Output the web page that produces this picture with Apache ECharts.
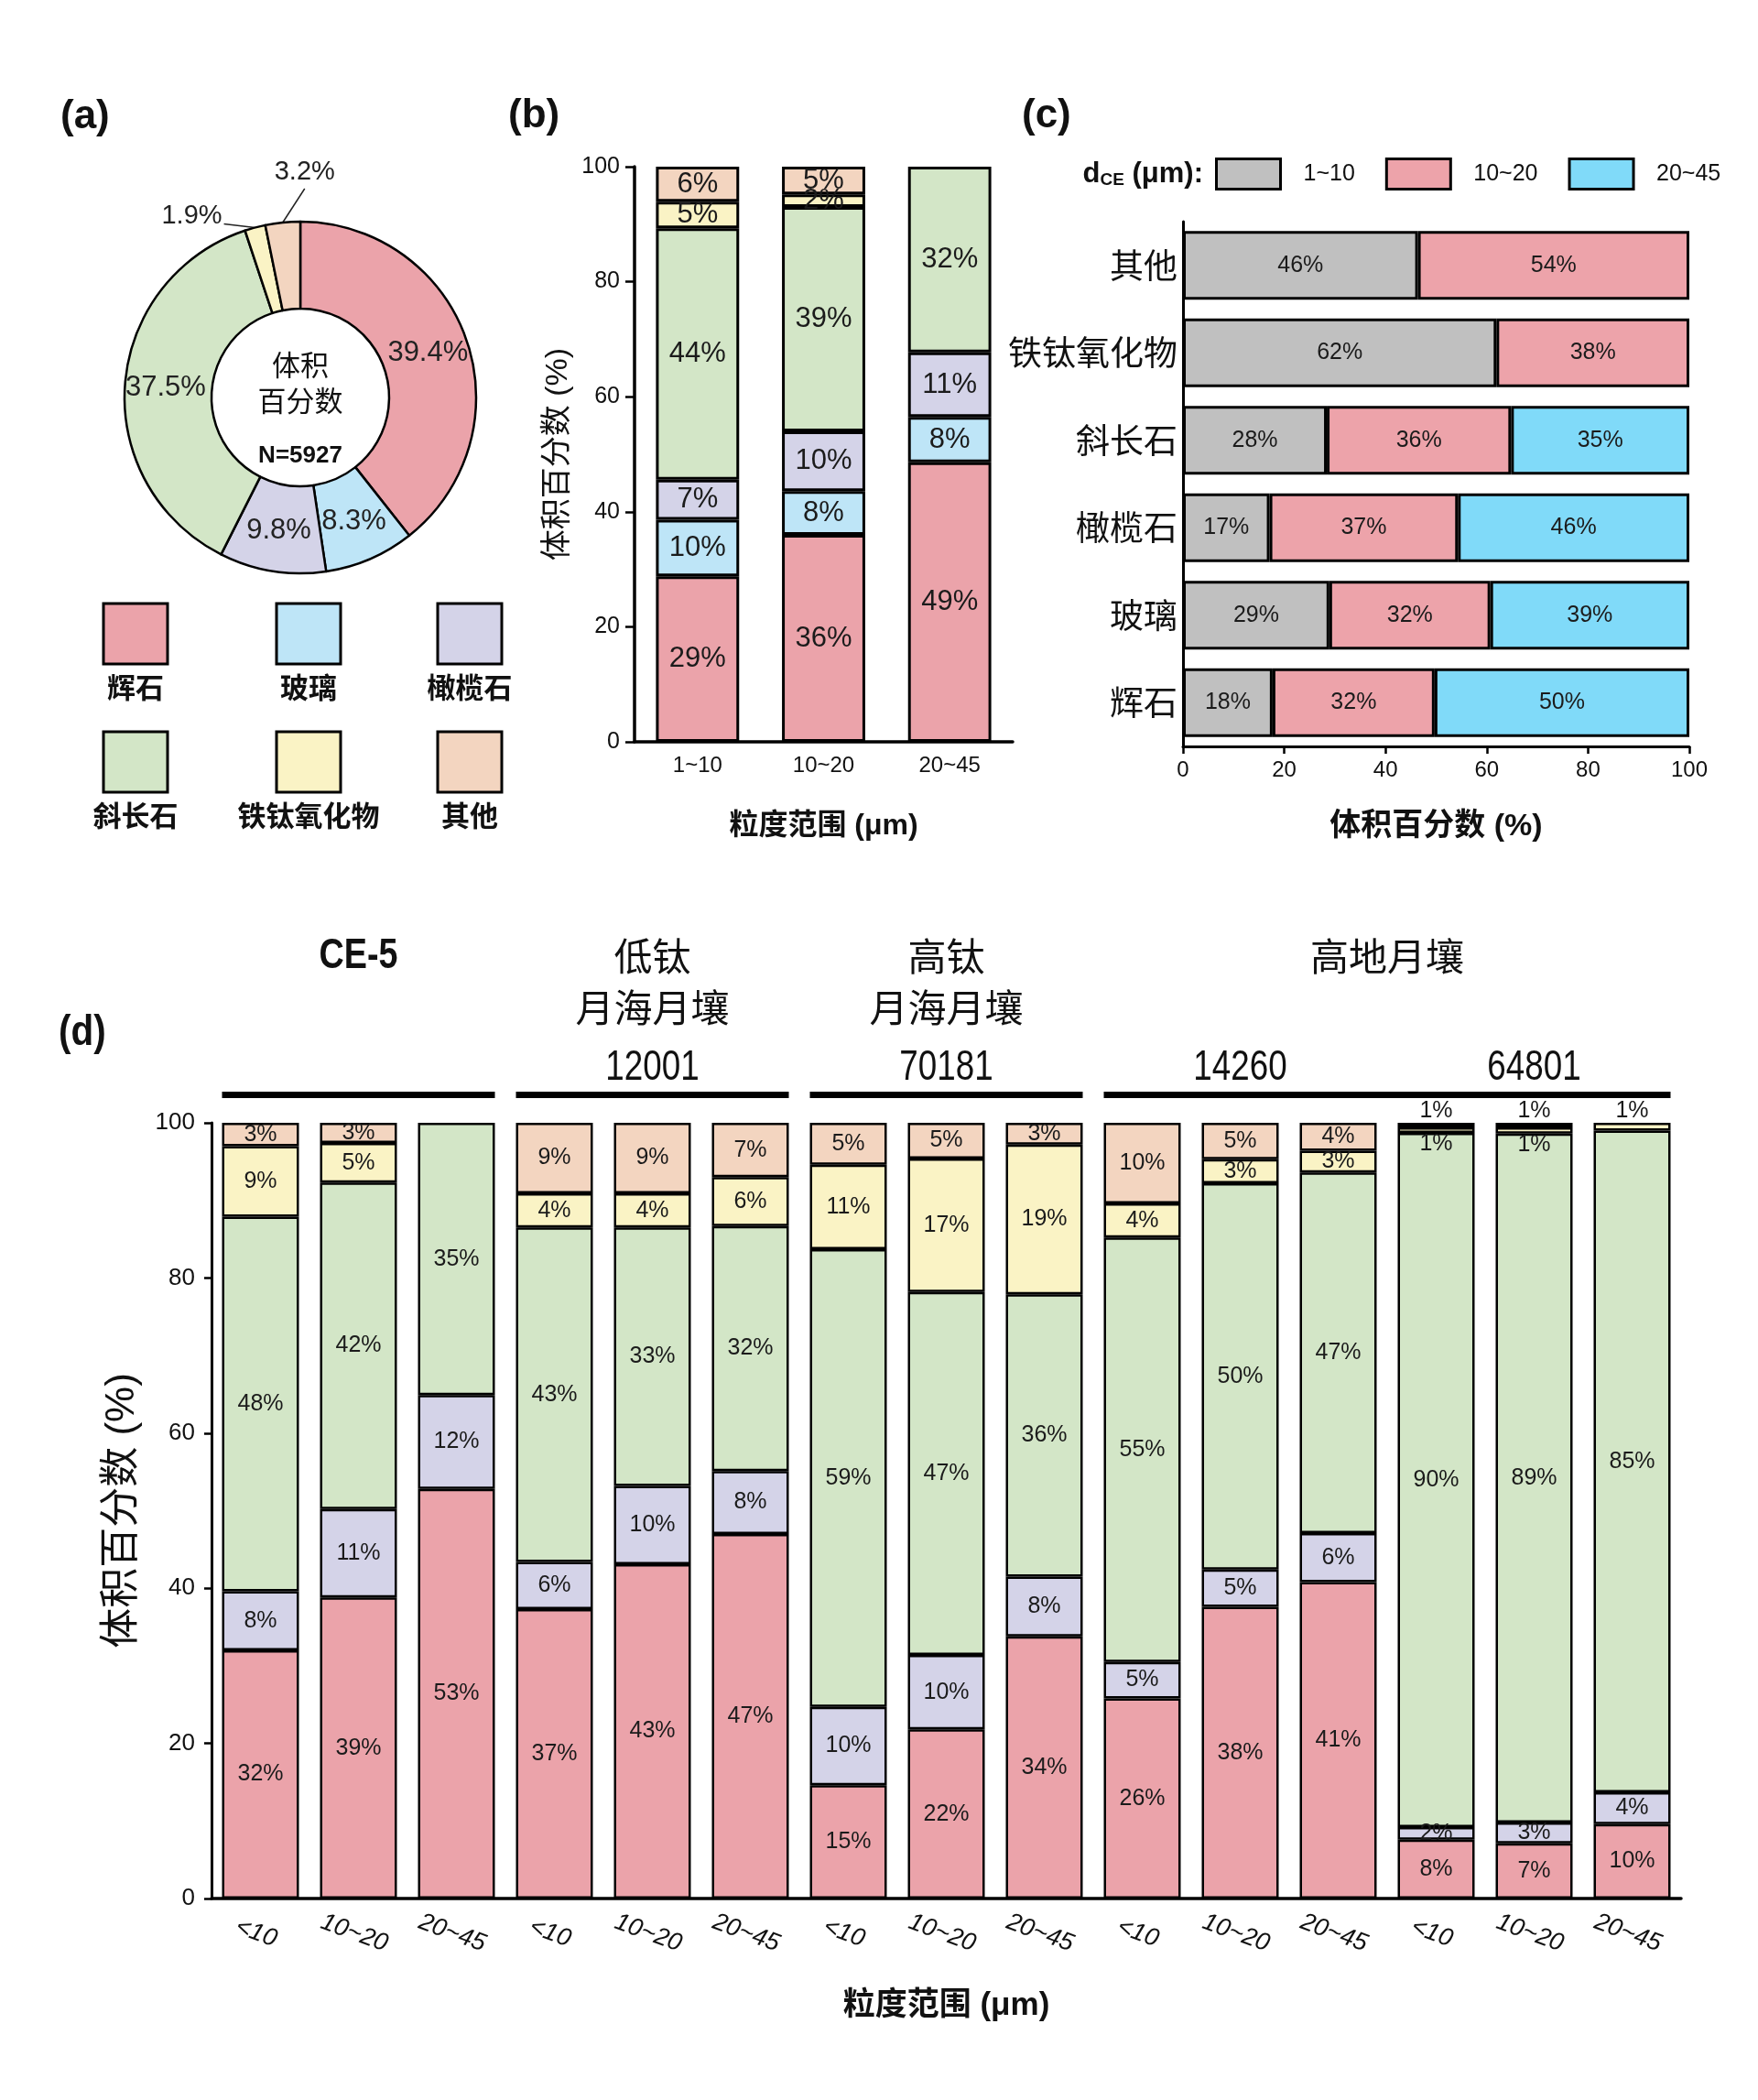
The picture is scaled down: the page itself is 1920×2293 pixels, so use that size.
<!DOCTYPE html>
<html>
<head>
<meta charset="utf-8">
<script src="https://cdn.jsdelivr.net/npm/echarts@6/dist/echarts.min.js"></script>
<style>
html,body{margin:0;padding:0;background:#fff;}
#chart{width:1920px;height:2293px;}
</style>
</head>
<body>
<div id="chart"></div>
<script>
// ================= DATA =================
// (a) donut: volume percentage of each mineral
const mineralsPie = ['辉石', '玻璃', '橄榄石', '斜长石', '铁钛氧化物', '其他'];
const pieValues = [39.4, 8.3, 9.8, 37.5, 1.9, 3.2];
const pieCountText = 'N=5927';

// (b) mineral share per size bin
const sizeB = ['1~10', '10~20', '20~45'];
const bPyroxene = [28.8, 36.0, 48.6];
const bGlass = [9.8, 7.6, 7.9];
const bOlivine = [7.0, 10.4, 11.2];
const bPlagioclase = [43.7, 39.0, 32.3];
const bIlmenite = [4.6, 2.2, 0];
const bOther = [6.1, 4.8, 0];

// (c) size-bin share per mineral
const mineralsC = ['辉石', '玻璃', '橄榄石', '斜长石', '铁钛氧化物', '其他'];
const sizeC = ['1~10', '10~20', '20~45'];
const c1to10 = [17.7, 28.9, 17.1, 28.4, 61.9, 46.4];
const c10to20 = [32.0, 31.8, 37.2, 36.4, 38.1, 53.6];
const c20to45 = [50.3, 39.3, 45.7, 35.2, 0, 0];

// (d) comparison with Apollo soils
const sizeD = ['<10', '10~20', '20~45', '<10', '10~20', '20~45', '<10', '10~20', '20~45',
               '<10', '10~20', '20~45', '<10', '10~20', '20~45'];
const dPyroxene =   [32.0, 38.8, 52.8, 37.3, 43.1, 47.0, 14.6, 21.8, 33.8, 25.8, 37.6, 40.8, 7.6, 7.1, 9.6];
const dOlivine =    [7.6, 11.4, 12.1, 6.1, 10.1, 8.1, 10.1, 9.6, 7.7, 4.7, 4.8, 6.3, 1.6, 2.7, 4.1];
const dPlagioclase =[48.3, 42.1, 35.1, 43.1, 33.3, 31.6, 59.0, 46.8, 36.4, 54.7, 49.8, 46.5, 89.5, 88.8, 85.3];
const dIlmenite =   [9.1, 5.1, 0, 4.4, 4.4, 6.3, 10.9, 17.2, 19.3, 4.4, 3.1, 2.8, 0.7, 0.8, 1.0];
const dOther =      [3.0, 2.6, 0, 9.1, 9.1, 7.0, 5.4, 4.6, 2.8, 10.4, 4.7, 3.6, 0.6, 0.6, 0];

const groupTitles = ['CE-5', '低钛\n月海月壤', '高钛\n月海月壤', '高地月壤'];
const groupFirst = [0, 3, 6, 9];
const groupLast = [2, 5, 8, 14];
const sampleIds = ['12001', '70181', '14260', '64801'];
const sampleFirst = [3, 6, 9, 12];
const sampleLast = [5, 8, 11, 14];

// ================= STYLE =================
const COLORS = {
  '辉石': '#EBA3AA', '玻璃': '#BEE5F7', '橄榄石': '#D4D3E8',
  '斜长石': '#D3E6C7', '铁钛氧化物': '#FAF3C5', '其他': '#F3D5C0'
};
const C_COLORS = ['#C0C0C0', '#EDA3AA', '#80DAF9'];
const SANS = '"Liberation Sans", Arial, sans-serif';
const CJK = '"Noto Sans CJK SC", sans-serif';
const SANS_CJK = '"Liberation Sans", "Noto Sans CJK SC", sans-serif';
const INK = '#111';
const LEGEND_COLS = [148, 337, 513];

const pct = p => (p.value > 0 ? Math.round(p.value) + '%' : '');

function barSeries(name, values, color, xi, yi, stack, gap, labelSize, bw, itemFn) {
  return {
    type: 'bar', name: name, stack: stack, xAxisIndex: xi, yAxisIndex: yi,
    barCategoryGap: gap,
    itemStyle: { color: color, borderColor: '#000', borderWidth: bw },
    label: { show: true, position: 'inside', formatter: pct, fontFamily: SANS,
             fontSize: labelSize, color: '#1b1b1b' },
    emphasis: { disabled: true },
    data: values.map((v, i) => (v === 0 ? '-' : (itemFn ? itemFn(v, i) : v)))
  };
}

// tiny segments in (d): label moved above / below the sliver
function tinyLabel(kind) {
  return function (v, i) {
    if (v >= 1.5) return v;
    if (kind === 'other') return { value: v, label: { position: 'top', distance: 0 } };
    return { value: v, label: { position: dOther[i] > 0 ? 'bottom' : 'top', distance: 0 } };
  };
}

const axisLineStyle = (w) => ({ show: true, lineStyle: { color: '#000', width: w } });

const option = {
  backgroundColor: '#fff',
  animation: false,
  grid: [
    { left: 693, top: 182, width: 413, height: 628, containLabel: false, outerBoundsMode: 'none' },
    { left: 1292, top: 242, width: 553, height: 573, containLabel: false, outerBoundsMode: 'none' },
    { left: 231, top: 1226, width: 1605, height: 847, containLabel: false, outerBoundsMode: 'none' }
  ],
  legend: [{
    data: sizeC, left: 1327, top: 172, padding: 0, orient: 'horizontal',
    itemWidth: 70, itemHeight: 33, itemGap: 33, icon: 'rect', selectedMode: false,
    itemStyle: { borderColor: '#000', borderWidth: 3 },
    textStyle: { fontSize: 25, fontFamily: SANS, color: INK, padding: [0, 0, 0, 20] }
  }],
  xAxis: [
    { type: 'category', gridIndex: 0, data: sizeB,
      axisLine: axisLineStyle(3.5), axisTick: { show: false },
      axisLabel: { fontSize: 24, fontFamily: SANS, color: INK, margin: 14 },
      name: '粒度范围 (μm)', nameLocation: 'middle', nameGap: 76, nameMoveOverlap: false,
      nameTextStyle: { fontSize: 32, fontWeight: 'bold', fontFamily: SANS_CJK, color: INK } },
    { type: 'value', gridIndex: 1, min: 0, max: 100, interval: 20,
      axisLine: axisLineStyle(3), axisTick: { show: true, length: 8, lineStyle: { color: '#000', width: 2.5 } },
      splitLine: { show: false },
      axisLabel: { fontSize: 24, fontFamily: SANS, color: INK, margin: 14 },
      name: '体积百分数 (%)', nameLocation: 'middle', nameGap: 71, nameMoveOverlap: false,
      nameTextStyle: { fontSize: 34, fontWeight: 'bold', fontFamily: SANS_CJK, color: INK } },
    { type: 'category', gridIndex: 2, data: sizeD,
      axisLine: axisLineStyle(3.5), axisTick: { show: false },
      axisLabel: { interval: 0, rotate: -20, fontStyle: 'italic', fontSize: 27, fontFamily: SANS,
                   color: INK, margin: 25, align: 'center', verticalAlign: 'top' },
      name: '粒度范围 (μm)', nameLocation: 'middle', nameGap: 100, nameMoveOverlap: false,
      nameTextStyle: { fontSize: 35, fontWeight: 'bold', fontFamily: SANS_CJK, color: INK } }
  ],
  yAxis: [
    { type: 'value', gridIndex: 0, min: 0, max: 100, interval: 20,
      axisLine: axisLineStyle(3.5), axisTick: { show: true, length: 10, lineStyle: { color: '#000', width: 2.5 } },
      splitLine: { show: false },
      axisLabel: { fontSize: 25, fontFamily: SANS, color: INK, margin: 16 },
      name: '体积百分数 (%)', nameLocation: 'middle', nameGap: 66, nameMoveOverlap: false,
      nameTextStyle: { fontSize: 34, fontFamily: SANS_CJK, color: INK } },
    { type: 'category', gridIndex: 1, data: mineralsC,
      axisLine: axisLineStyle(3), axisTick: { show: false },
      axisLabel: { fontSize: 37, fontFamily: CJK, color: INK, margin: 6 } },
    { type: 'value', gridIndex: 2, min: 0, max: 100, interval: 20,
      axisLine: axisLineStyle(3), axisTick: { show: true, length: 8, lineStyle: { color: '#000', width: 2.5 } },
      splitLine: { show: false },
      axisLabel: { fontSize: 26, fontFamily: SANS, color: INK, margin: 18 },
      name: '体积百分数 (%)', nameLocation: 'middle', nameGap: 75, nameMoveOverlap: false,
      nameTextStyle: { fontSize: 44, fontFamily: SANS_CJK, color: INK } }
  ],
  series: [
    {
      type: 'pie', name: 'a', center: [328, 434], radius: [97, 192],
      startAngle: 90, clockwise: true, avoidLabelOverlap: false,
      itemStyle: { borderColor: '#000', borderWidth: 2.5 },
      emphasis: { disabled: true },
      label: { show: true, position: 'inside', formatter: p => p.value + '%',
               fontSize: 31, fontFamily: SANS, color: '#222' },
      labelLine: { show: false },
      data: mineralsPie.map((n, i) => {
        const item = { name: n, value: pieValues[i], itemStyle: { color: COLORS[n] } };
        if (pieValues[i] < 5) {
          item.label = { position: 'outside', fontSize: 29 };
          item.labelLine = { show: true, length: 12, length2: 10, lineStyle: { color: '#222', width: 1.5 } };
        }
        return item;
      }),
      labelLayout: function (p) {
        if (!p.labelLinePoints || pieValues[p.dataIndex] >= 5) return {};
        const a = p.labelLinePoints[0];
        if (p.dataIndex === pieValues.length - 1) {
          return { x: a[0] + 24, y: a[1] - 40, align: 'center', verticalAlign: 'bottom',
                   labelLinePoints: [a, [a[0] + 24, a[1] - 37], [a[0] + 24, a[1] - 37]] };
        }
        return { x: a[0] - 36, y: a[1] + 2, align: 'right', verticalAlign: 'bottom',
                 labelLinePoints: [a, [a[0] - 34, a[1] - 4], [a[0] - 34, a[1] - 4]] };
      }
    },
    // (b)
    barSeries('辉石', bPyroxene, COLORS['辉石'], 0, 0, 'b', '34%', 31, 3),
    barSeries('玻璃', bGlass, COLORS['玻璃'], 0, 0, 'b', '34%', 31, 3),
    barSeries('橄榄石', bOlivine, COLORS['橄榄石'], 0, 0, 'b', '34%', 31, 3),
    barSeries('斜长石', bPlagioclase, COLORS['斜长石'], 0, 0, 'b', '34%', 31, 3),
    barSeries('铁钛氧化物', bIlmenite, COLORS['铁钛氧化物'], 0, 0, 'b', '34%', 31, 3),
    barSeries('其他', bOther, COLORS['其他'], 0, 0, 'b', '34%', 31, 3),
    // (c)
    barSeries(sizeC[0], c1to10, C_COLORS[0], 1, 1, 'c', '21.5%', 25, 3),
    barSeries(sizeC[1], c10to20, C_COLORS[1], 1, 1, 'c', '21.5%', 25, 3),
    barSeries(sizeC[2], c20to45, C_COLORS[2], 1, 1, 'c', '21.5%', 25, 3),
    // (d)
    barSeries('辉石', dPyroxene, COLORS['辉石'], 2, 2, 'd', '21.5%', 25, 2.5),
    barSeries('橄榄石', dOlivine, COLORS['橄榄石'], 2, 2, 'd', '21.5%', 25, 2.5),
    barSeries('斜长石', dPlagioclase, COLORS['斜长石'], 2, 2, 'd', '21.5%', 25, 2.5),
    barSeries('铁钛氧化物', dIlmenite, COLORS['铁钛氧化物'], 2, 2, 'd', '21.5%', 25, 2.5, tinyLabel('ilm')),
    barSeries('其他', dOther, COLORS['其他'], 2, 2, 'd', '21.5%', 25, 2.5, tinyLabel('other'))
  ]
};

const chart = echarts.init(document.getElementById('chart'), null, { renderer: 'canvas', width: 1920, height: 2293 });
chart.setOption(option);

// ================= ANNOTATIONS =================
const g = [];
function txt(x, y, s, font, align, sx) {
  g.push({ type: 'text', x: x, y: y, silent: true, scaleX: sx || 1,
    style: { text: s, font: font, fill: INK, align: align || 'left', verticalAlign: 'middle' } });
}
// panel letters
txt(66, 128, '(a)', 'bold 44px ' + SANS);
txt(555, 127, '(b)', 'bold 44px ' + SANS);
txt(1116, 127, '(c)', 'bold 44px ' + SANS);
txt(64, 1128, '(d)', 'bold 46px ' + SANS, 'left', 0.88);

// donut centre
txt(328, 398, '体积', '31px ' + CJK, 'center');
txt(328, 437, '百分数', '31px ' + CJK, 'center');
txt(328, 498, pieCountText, 'bold 26px ' + SANS, 'center');

// donut legend (boxes above names)
mineralsPie.forEach((n, i) => {
  const col = i % 3, row = Math.floor(i / 3);
  const cx = LEGEND_COLS[col];
  const top = 659 + row * 140;
  g.push({ type: 'rect', silent: true, shape: { x: cx - 35, y: top, width: 70, height: 66 },
           style: { fill: COLORS[n], stroke: '#000', lineWidth: 3 } });
  txt(cx, top + 91, n, 'bold 31px ' + CJK, 'center');
});

// (c) legend caption
g.push({ type: 'text', silent: true, x: 1314, y: 190,
  style: { text: '{d|d}{s|CE}{d| (μm):}', align: 'right', verticalAlign: 'middle',
    rich: { d: { fontSize: 31, fontWeight: 'bold', fontFamily: SANS, fill: INK },
            s: { fontSize: 19, fontWeight: 'bold', fontFamily: SANS, fill: INK, padding: [14, 0, 0, 0] } } } });

// (d) sample groups, located through the category axis
const px = i => chart.convertToPixel({ xAxisIndex: 2 }, i);
const band = px(1) - px(0);
const half = band * (1 - 0.215) / 2;
groupTitles.forEach((t, k) => {
  const x1 = px(groupFirst[k]) - half, x2 = px(groupLast[k]) + half;
  g.push({ type: 'rect', silent: true, shape: { x: x1, y: 1192, width: x2 - x1, height: 7 },
           style: { fill: '#000' } });
  const lines = t.split('\n');
  lines.forEach((ln, j) => {
    const latin = /^[A-Za-z0-9-]+$/.test(ln);
    txt((px(groupFirst[k]) + px(groupLast[k])) / 2, 1044 + j * 56, ln,
        (latin ? 'bold 46px ' + SANS : '42px ' + CJK), 'center', latin ? 0.82 : 1);
  });
});
sampleIds.forEach((s, k) => {
  txt((px(sampleFirst[k]) + px(sampleLast[k])) / 2, 1166, s, '46px ' + SANS, 'center', 0.8);
});

chart.setOption({ graphic: g });
</script>
</body>
</html>
